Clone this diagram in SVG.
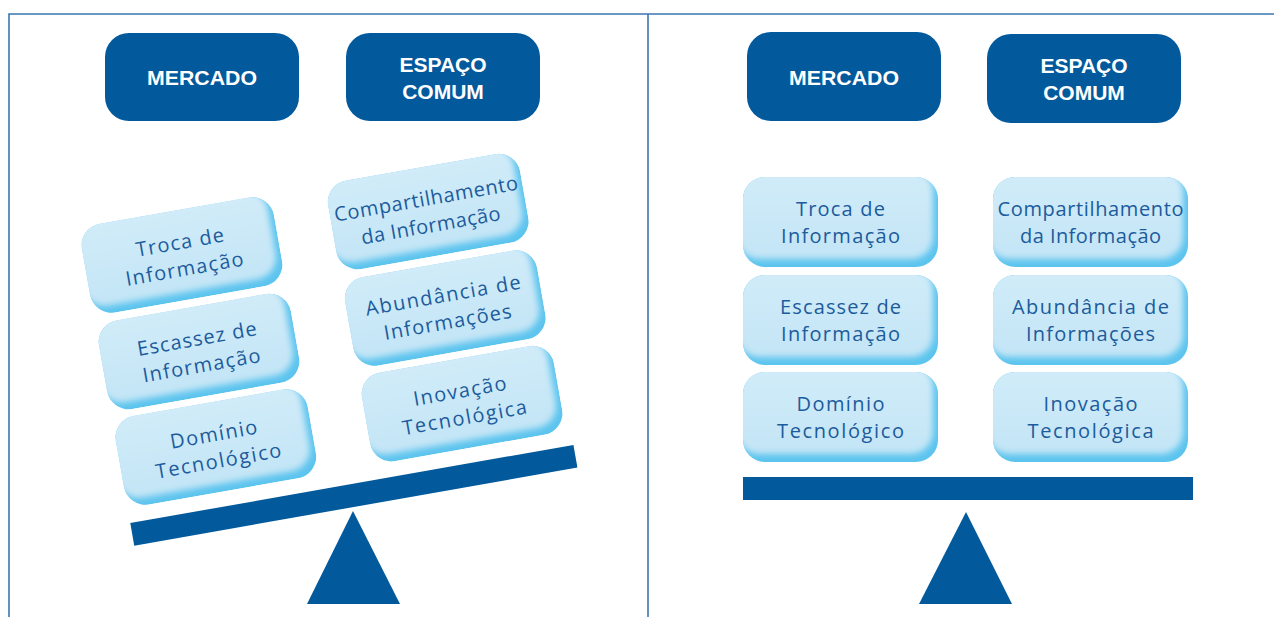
<svg xmlns="http://www.w3.org/2000/svg" xmlns:xlink="http://www.w3.org/1999/xlink" width="1274" height="617" viewBox="0 0 1274 617">
<style>
.frame{fill:none;stroke:#3b77b0;stroke-width:1.6}
.hdr{fill:#02599c}
.hdrt{font-family:"Liberation Sans",Arial,sans-serif;font-weight:bold;font-size:21px;fill:#ffffff;text-anchor:middle}
.tt{font-family:"Open Sans","Liberation Sans",sans-serif;font-size:20px;fill:#1c5b9c;text-anchor:middle}
.dark{fill:#02599c}
</style>
<defs>
<clipPath id="tileClip"><rect width="195" height="90" rx="22"/></clipPath>
<linearGradient id="pale" x1="0" y1="0" x2="0" y2="1">
<stop offset="0" stop-color="#d2ecf9"/>
<stop offset="1" stop-color="#c3e5f6"/>
</linearGradient>
<filter id="soft" x="-15%" y="-20%" width="130%" height="140%"><feGaussianBlur stdDeviation="3"/></filter>
<g id="tile">
<g clip-path="url(#tileClip)">
<rect width="195" height="90" fill="#5cc4ee"/>
<rect x="-6" y="-8" width="196" height="90" rx="22" fill="url(#pale)" filter="url(#soft)"/>
</g>
</g>
</defs>
<rect width="1274" height="617" fill="#ffffff"/>
<g id="frames">
<path class="frame" d="M9 617 V14 H1274"/>
<path class="frame" d="M648 14 V617"/>
</g>

<!-- Left panel headers -->
<g id="l-mercado"><rect class="hdr" x="105" y="33" width="194" height="88" rx="24"/><text class="hdrt" x="202" y="85" textLength="110" lengthAdjust="spacingAndGlyphs">MERCADO</text></g>
<g id="l-espaco"><rect class="hdr" x="346" y="33" width="194" height="88" rx="24"/><text class="hdrt" x="443" y="72">ESPAÇO</text><text class="hdrt" x="443" y="99">COMUM</text></g>

<!-- Left panel tilted scale -->
<g id="l-tilted" transform="translate(182,255) rotate(-10) translate(-840.5,-222)">
<g id="l-troca"><use xlink:href="#tile" href="#tile" x="743" y="177"/><text class="tt" x="840.5" y="216" textLength="89" lengthAdjust="spacing">Troca de</text><text class="tt" x="840.5" y="243" textLength="119" lengthAdjust="spacing">Informação</text></g>
<g id="l-escassez"><use xlink:href="#tile" href="#tile" x="743" y="275"/><text class="tt" x="840.5" y="314" textLength="121" lengthAdjust="spacing">Escassez de</text><text class="tt" x="840.5" y="341" textLength="119" lengthAdjust="spacing">Informação</text></g>
<g id="l-dominio"><use xlink:href="#tile" href="#tile" x="743" y="372"/><text class="tt" x="840.5" y="411" textLength="88" lengthAdjust="spacing">Domínio</text><text class="tt" x="840.5" y="438" textLength="127" lengthAdjust="spacing">Tecnológico</text></g>
<g id="l-compart"><use xlink:href="#tile" href="#tile" x="993" y="177"/><text class="tt" x="1090.5" y="216" textLength="186" lengthAdjust="spacing">Compartilhamento</text><text class="tt" x="1090.5" y="243" textLength="141" lengthAdjust="spacing">da Informação</text></g>
<g id="l-abund"><use xlink:href="#tile" href="#tile" x="993" y="275"/><text class="tt" x="1090.5" y="314" textLength="157" lengthAdjust="spacing">Abundância de</text><text class="tt" x="1090.5" y="341" textLength="129" lengthAdjust="spacing">Informações</text></g>
<g id="l-inov"><use xlink:href="#tile" href="#tile" x="993" y="372"/><text class="tt" x="1090.5" y="411" textLength="94" lengthAdjust="spacing">Inovação</text><text class="tt" x="1090.5" y="438" textLength="126" lengthAdjust="spacing">Tecnológica</text></g>
<rect id="l-beam" class="dark" x="743" y="477" width="450" height="23"/>
</g>
<polygon id="l-fulcrum" class="dark" points="353,511 400,604 307,604"/>

<!-- Right panel headers -->
<g id="r-mercado"><rect class="hdr" x="747" y="32" width="194" height="89" rx="24"/><text class="hdrt" x="844" y="85" textLength="110" lengthAdjust="spacingAndGlyphs">MERCADO</text></g>
<g id="r-espaco"><rect class="hdr" x="987" y="34" width="194" height="89" rx="24"/><text class="hdrt" x="1084" y="73">ESPAÇO</text><text class="hdrt" x="1084" y="100">COMUM</text></g>

<!-- Right panel balanced scale -->
<g id="r-troca"><use xlink:href="#tile" href="#tile" x="743" y="177"/><text class="tt" x="840.5" y="216" textLength="89" lengthAdjust="spacing">Troca de</text><text class="tt" x="840.5" y="243" textLength="119" lengthAdjust="spacing">Informação</text></g>
<g id="r-escassez"><use xlink:href="#tile" href="#tile" x="743" y="275"/><text class="tt" x="840.5" y="314" textLength="121" lengthAdjust="spacing">Escassez de</text><text class="tt" x="840.5" y="341" textLength="119" lengthAdjust="spacing">Informação</text></g>
<g id="r-dominio"><use xlink:href="#tile" href="#tile" x="743" y="372"/><text class="tt" x="840.5" y="411" textLength="88" lengthAdjust="spacing">Domínio</text><text class="tt" x="840.5" y="438" textLength="127" lengthAdjust="spacing">Tecnológico</text></g>
<g id="r-compart"><use xlink:href="#tile" href="#tile" x="993" y="177"/><text class="tt" x="1090.5" y="216" textLength="186" lengthAdjust="spacing">Compartilhamento</text><text class="tt" x="1090.5" y="243" textLength="141" lengthAdjust="spacing">da Informação</text></g>
<g id="r-abund"><use xlink:href="#tile" href="#tile" x="993" y="275"/><text class="tt" x="1090.5" y="314" textLength="157" lengthAdjust="spacing">Abundância de</text><text class="tt" x="1090.5" y="341" textLength="129" lengthAdjust="spacing">Informações</text></g>
<g id="r-inov"><use xlink:href="#tile" href="#tile" x="993" y="372"/><text class="tt" x="1090.5" y="411" textLength="94" lengthAdjust="spacing">Inovação</text><text class="tt" x="1090.5" y="438" textLength="126" lengthAdjust="spacing">Tecnológica</text></g>
<rect id="r-beam" class="dark" x="743" y="477" width="450" height="23"/>
<polygon id="r-fulcrum" class="dark" points="966,512 1012,604 919,604"/>
</svg>
